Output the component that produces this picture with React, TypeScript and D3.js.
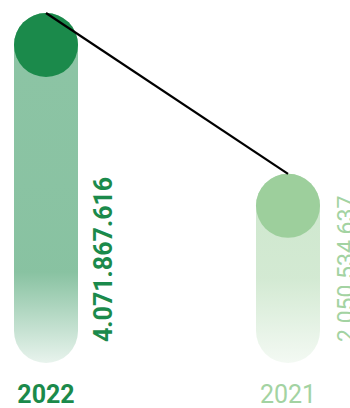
import React from "react";
import * as d3 from "d3";

const categories = ["2022", "2021"];
const values = [4071867616, 2050534637];
const valueLabels = ["4.071.867.616", "2 050 534 637"];

const W = 350;
const H = 408;
const R = 32;
const BOTTOM = 363;

const circleColors = ["#1b8a4b", "#9dcf9c"];
const barColors = ["#1b8a4b", "#9dcf9c"];
const labelColors = ["#1b8a4b", "#a3d3a2"];
const weights = [700, 400];

export default function App() {
  React.useEffect(() => {
    document.body.style.margin = "0";
  }, []);
  const x = d3.scalePoint<string>().domain(categories).range([46, 288]);
  const y = d3.scaleLinear().domain([0, d3.max(values) as number]).range([369, 45]);

  const tops = categories.map((c, i) => [x(c) as number, y(values[i]) - R] as [number, number]);
  const line = d3.line()(tops) as string;

  return (
    <svg width={W} height={H} style={{ display: "block", fontFamily: "Roboto, sans-serif" }}>
      <defs>
        <linearGradient id="g0" x1="0" y1="0" x2="0" y2="1">
          <stop offset="0%" stopColor={barColors[0]} stopOpacity={0.5} />
          <stop offset="74%" stopColor={barColors[0]} stopOpacity={0.52} />
          <stop offset="100%" stopColor={barColors[0]} stopOpacity={0.1} />
        </linearGradient>
        <linearGradient id="g1" x1="0" y1="0" x2="0" y2="1">
          <stop offset="0%" stopColor={barColors[1]} stopOpacity={0.5} />
          <stop offset="55%" stopColor={barColors[1]} stopOpacity={0.45} />
          <stop offset="100%" stopColor={barColors[1]} stopOpacity={0.12} />
        </linearGradient>
      </defs>
      {categories.map((c, i) => {
        const cx = x(c) as number;
        const cy = y(values[i]);
        return (
          <g key={c}>
            <rect x={cx - R} y={cy - R} width={2 * R} height={BOTTOM - cy + R} rx={R} ry={R} fill={`url(#g${i})`} />
            <circle cx={cx} cy={cy} r={R} fill={circleColors[i]} />
            <text
              transform={`translate(${cx + 66},${BOTTOM - 21}) rotate(-90)`}
              fontSize={i === 0 ? 25 : 23}
              fontWeight={weights[i]}
              fill={labelColors[i]}
            >
              {valueLabels[i]}
            </text>
            <text
              x={cx}
              y={403}
              textAnchor="middle"
              fontSize={25}
              fontWeight={weights[i]}
              fill={labelColors[i]}
            >
              {c}
            </text>
          </g>
        );
      })}
      <path d={line} stroke="#000" strokeWidth={2.2} fill="none" />
    </svg>
  );
}
